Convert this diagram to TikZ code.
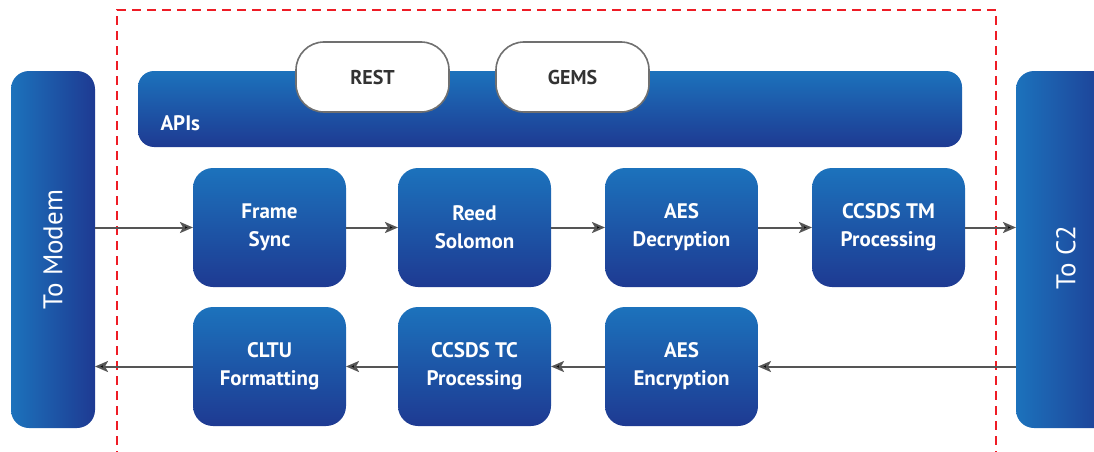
\documentclass[tikz,border=0pt]{standalone}
\usepackage{fontspec}
\setmainfont{PT Sans}
\usetikzlibrary{arrows.meta}
\definecolor{bluelight}{HTML}{1C72BC}
\definecolor{bluedark}{HTML}{1E3A92}
\definecolor{redline}{HTML}{EE1C25}
\definecolor{arrowgray}{HTML}{555555}
\definecolor{apigray}{HTML}{707070}
\definecolor{apitext}{HTML}{333333}
\tikzset{
  block/.style={rounded corners=20pt, top color=bluelight, bottom color=bluedark,
    minimum width=153pt, minimum height=119pt, inner sep=0pt, outer sep=0pt,
    anchor=north west, text=white, align=center,
    font=\fontsize{21}{28}\selectfont\bfseries},
  sidebar/.style={rounded corners=18pt, left color=bluelight, right color=bluedark,
    minimum width=84pt, minimum height=357pt, inner sep=0pt, outer sep=0pt,
    anchor=north west},
  sidetext/.style={rotate=90, text=white, font=\fontsize{27}{30}\selectfont},
  apibar/.style={rounded corners=16pt, top color=bluelight, bottom color=bluedark,
    minimum width=824pt, minimum height=76pt, inner sep=0pt, outer sep=0pt,
    anchor=north west},
  apibox/.style={rounded corners=28pt, fill=white, draw=apigray, line width=1.6pt,
    minimum width=153pt, minimum height=70pt, inner sep=0pt, outer sep=0pt,
    anchor=north west, text=apitext, font=\fontsize{20}{24}\selectfont\bfseries},
  flow/.style={draw=arrowgray, line width=2pt,
    -{Stealth[length=13pt,width=11pt,inset=3pt,fill=black]}},
  boundary/.style={draw=redline, line width=1.8pt, dash pattern=on 9pt off 6pt}
}
\begin{document}
\begin{tikzpicture}[x=1pt,y=-1pt]
\useasboundingbox (0,0) rectangle (1094,452);
\clip (0,0) rectangle (1094,452);
% dashed boundary
\coordinate (bl) at (117,460);
\coordinate (tl) at (117,10);
\coordinate (tr) at (996,10);
\coordinate (br) at (996,460);
\draw[boundary] (bl) -- (tl) -- (tr) -- (br);
% side bars
\node[sidebar, label={[sidetext]center:To Modem}] (modem) at (11,71) {};
\node[sidebar, minimum width=100pt, label={[sidetext, xshift=-8pt]center:To C2}] (c2) at (1016,71) {};
% APIs bar
\node[apibar, label={[anchor=west, xshift=19pt, yshift=-14pt, text=white,
  font=\fontsize{21}{24}\selectfont\bfseries]west:APIs}] (apis) at (138,71) {};
\node[apibox] (rest) at (296,42) {REST};
\node[apibox] (gems) at (496,42) {GEMS};
% top row
\node[block] (fs) at (193,168) {Frame\\Sync};
\node[block] (rs) at (398,168) {Reed\\Solomon};
\node[block] (aesd) at (605,168) {AES\\Decryption};
\node[block] (tm) at (812,168) {CCSDS TM\\Processing};
% bottom row
\node[block] (cltu) at (193,307) {CLTU\\Formatting};
\node[block] (tc) at (398,307) {CCSDS TC\\Processing};
\node[block] (aese) at (605,307) {AES\\Encryption};
% connectors
\draw[flow] (fs.west -| modem.east) -- (fs.west);
\draw[flow] (fs.east) -- (rs.west);
\draw[flow] (rs.east) -- (aesd.west);
\draw[flow] (aesd.east) -- (tm.west);
\draw[flow] (tm.east) -- (tm.east -| c2.west);
\draw[flow] (aese.east -| c2.west) -- (aese.east);
\draw[flow] (aese.west) -- (tc.east);
\draw[flow] (tc.west) -- (cltu.east);
\draw[flow] (cltu.west) -- (cltu.west -| modem.east);
\end{tikzpicture}
\end{document}
